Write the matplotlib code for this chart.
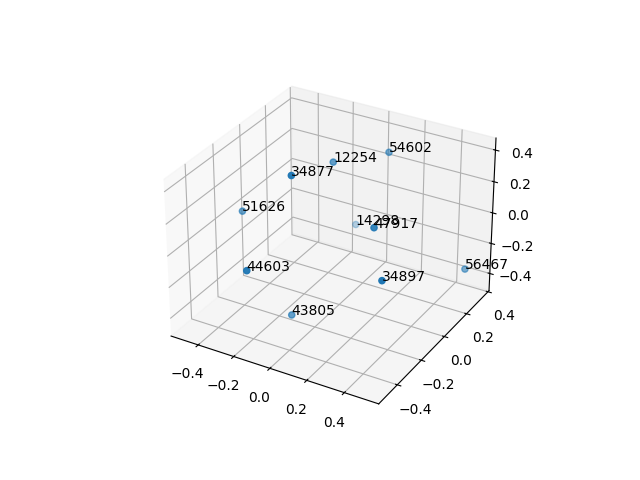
import matplotlib
matplotlib.use("Agg")
import matplotlib.pyplot as plt

# point labels and coordinates
labels = ["54602", "12254", "34877", "51626", "14298",
          "47917", "44603", "34897", "56467", "43805"]
xs = [0.063, -0.098, -0.087, -0.449, -0.166, 0.262, -0.166, 0.411, 0.519, -0.092]
ys = [0.317, 0.094, -0.249, -0.134, 0.387, -0.112, -0.483, -0.273, 0.276, -0.252]
zs = [0.287, 0.315, 0.453, 0.039, -0.307, 0.153, -0.003, -0.014, -0.296, -0.431]

fig = plt.figure(figsize=(6.4, 4.8), dpi=100)
ax = fig.add_subplot(projection="3d")

ax.scatter(xs, ys, zs)
for x, y, z, lab in zip(xs, ys, zs, labels):
    ax.text(x, y, z, lab)

ax.set_xlim(-0.555, 0.58)
ax.set_ylim(-0.55, 0.41)
ax.set_zlim(-0.516, 0.475)

fig.savefig("out.png")
